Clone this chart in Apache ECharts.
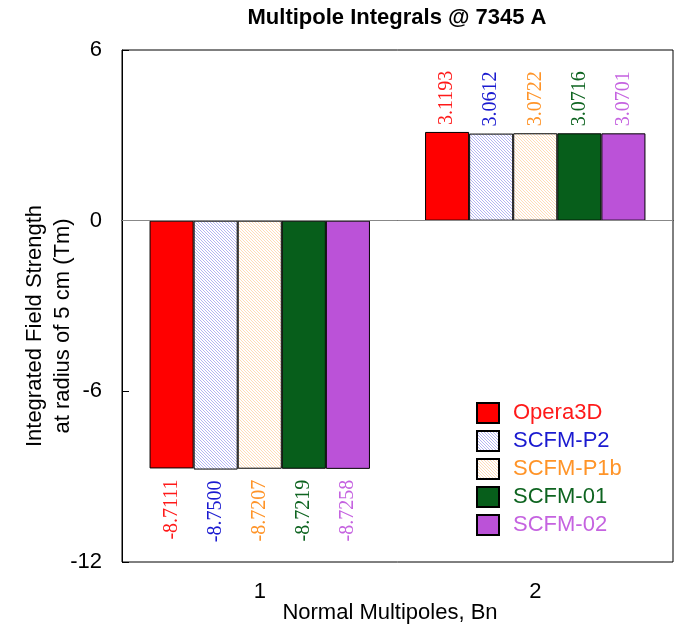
<!DOCTYPE html>
<html>
<head>
<meta charset="utf-8">
<script src="https://cdn.jsdelivr.net/npm/echarts@6/dist/echarts.min.js"></script>
<style>
  html, body { margin: 0; padding: 0; background: #fff; }
  #main { width: 679px; height: 626px; }
</style>
</head>
<body>
<div id="main"></div>
<script>
var categories = ['1', '2'];
var seriesNames = ['Opera3D', 'SCFM-P2', 'SCFM-P1b', 'SCFM-01', 'SCFM-02'];
var opera3d = [-8.7111, 3.1193];
var scfmP2 = [-8.7500, 3.0612];
var scfmP1b = [-8.7207, 3.0722];
var scfm01 = [-8.7219, 3.0716];
var scfm02 = [-8.7258, 3.0701];
var yTicks = [-12, -6, 0, 6];

// hatch fill for the two striped series
function hatch(lineColor) {
	var c = document.createElement('canvas');
	c.width = 3;
	c.height = 3;
	var ctx = c.getContext('2d');
	ctx.fillStyle = '#fff';
	ctx.fillRect(0, 0, 3, 3);
	ctx.fillStyle = lineColor;
	for (var i = 0; i < 3; i++) {
		ctx.fillRect(i, i, 1, 1);
	}
	return { image: c, repeat: 'repeat' };
}

var fills = ['#ff0000', hatch('#b4b4f2'), hatch('#ffdcb8'), '#075e1b', '#bb52d8'];
var textColors = ['#ff1a1a', '#1a1ad0', '#ff9428', '#0e6420', '#c563e0'];
var allData = [opera3d, scfmP2, scfmP1b, scfm01, scfm02];

var series = [];
for (var s = 0; s < seriesNames.length; s++) {
	var items = [];
	for (var k = 0; k < allData[s].length; k++) {
		var v = allData[s][k];
		items.push({
			value: v,
			label: {
				position: v >= 0 ? 'top' : 'bottom',
				align: v >= 0 ? 'left' : 'right',
				distance: v >= 0 ? 7 : 11
			}
		});
	}
	var one = {
		name: seriesNames[s],
		type: 'bar',
		barGap: '0%',
		barCategoryGap: '20%',
		itemStyle: {
			color: fills[s],
			borderColor: '#000',
			borderWidth: 1
		},
		label: {
			show: true,
			rotate: 90,
			verticalAlign: 'middle',
			color: textColors[s],
			fontFamily: 'Liberation Serif',
			fontSize: 20,
			formatter: function (p) {
				return p.value.toFixed(4);
			}
		},
		data: items
	};
	if (s == 0) {
		//零线
		one.markLine = {
			silent: true,
			symbol: 'none',
			label: { show: false },
			lineStyle: { color: '#888', width: 1, type: 'solid' },
			data: [{ yAxis: 0 }]
		};
	}
	series.push(one);
}

var legendData = [];
for (var j = 0; j < seriesNames.length; j++) {
	legendData.push({ name: seriesNames[j], textStyle: { color: textColors[j] } });
}

var option = {
	animation: false,
	backgroundColor: '#fff',
	title: {
		text: 'Multipole Integrals @ 7345 A',
		left: 392,
		top: 2,
		textAlign: 'center',
		textStyle: { fontFamily: 'Liberation Sans', fontSize: 22, fontWeight: 'bold', color: '#000' }
	},
	legend: {
		orient: 'vertical',
		left: 471,
		top: 397,
		itemWidth: 22,
		itemHeight: 20,
		itemGap: 6,
		icon: 'rect',
		textStyle: { fontFamily: 'Liberation Sans', fontSize: 22, padding: [0, 0, 0, 9] },
		data: legendData
	},
	grid: {
		left: 122,
		right: 6,
		top: 50,
		bottom: 64,
		show: true,
		borderColor: '#000',
		borderWidth: 1
	},
	xAxis: {
		type: 'category',
		data: categories,
		axisLine: { lineStyle: { color: '#000' } },
		axisTick: { inside: true, length: 7, lineStyle: { color: '#000' } },
		axisLabel: { margin: 19, fontFamily: 'Liberation Sans', fontSize: 22, color: '#000' }
	},
	yAxis: {
		type: 'value',
		min: yTicks[0],
		max: yTicks[yTicks.length - 1],
		interval: 6,
		axisLine: { show: true, lineStyle: { color: '#000' } },
		axisTick: { show: true, inside: true, length: 7, lineStyle: { color: '#000' } },
		splitLine: { show: false },
		axisLabel: { margin: 20, fontFamily: 'Liberation Sans', fontSize: 22, color: '#000' }
	},
	graphic: [{
		type: 'text',
		x: 49,
		y: 326,
		rotation: Math.PI / 2,
		style: {
			text: 'Integrated Field Strength\nat radius of 5 cm (Tm)',
			font: '22px "Liberation Sans"',
			lineHeight: 28,
			fill: '#000',
			align: 'center',
			verticalAlign: 'middle'
		}
	}, {
		type: 'text',
		x: 390,
		y: 613,
		style: {
			text: 'Normal Multipoles, Bn',
			font: '22px "Liberation Sans"',
			fill: '#000',
			align: 'center',
			verticalAlign: 'middle'
		}
	}],
	series: series
};

var myChart = echarts.init(document.getElementById('main'));
myChart.setOption(option);
</script>
</body>
</html>
